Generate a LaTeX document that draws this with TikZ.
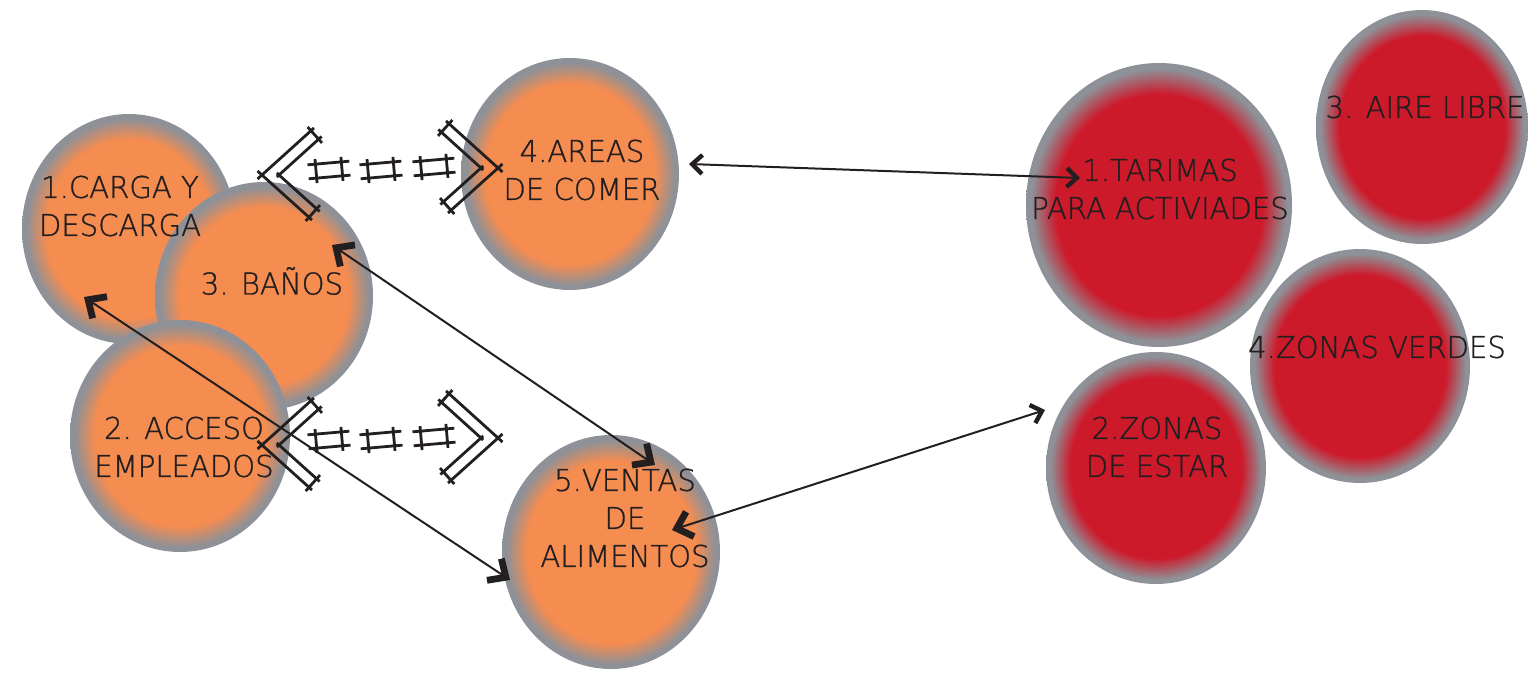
\documentclass[tikz,border=0pt]{standalone}
\usepackage{fontspec}
\usetikzlibrary{shapes.geometric,arrows.meta}
\newfontfamily\lblfont{DejaVu Sans ExtraLight}[FakeStretch=0.97,FakeBold=1]

\definecolor{orfill}{HTML}{F58C50}
\definecolor{redfill}{HTML}{CD1A2B}
\definecolor{rimgray}{HTML}{8E9197}
\definecolor{ink}{HTML}{231F20}

% flat fill in the middle, fading into a grey rim
\pgfdeclareradialshading{orangeball}{\pgfpoint{0bp}{0bp}}{color(0bp)=(orfill); color(19.5bp)=(orfill); color(24bp)=(rimgray); color(50bp)=(rimgray)}
\pgfdeclareradialshading{redball}{\pgfpoint{0bp}{0bp}}{color(0bp)=(redfill); color(19.5bp)=(redfill); color(24bp)=(rimgray); color(50bp)=(rimgray)}

\tikzset{
  zone/.style={ellipse, inner sep=0pt, draw=none},
  orangezone/.style={zone, shading=orangeball},
  redzone/.style={zone, shading=redball},
  lbl/.style={font=\lblfont\fontsize{15}{19}\selectfont, text=ink, align=center, inner sep=0pt},
  link/.style={draw=ink, line width=1pt},
  tipS/.tip={Straight Barb[length=5pt,width=9.5pt,line width=2.2pt]},
  tipL/.tip={Straight Barb[length=7pt,width=13pt,line width=3.4pt]},
  rail/.style={draw=ink, line width=1.4pt},
  % double-railed chevron with crossing ticks, apex at the origin, opening to +x
  chevron/.pic={
    \draw[rail] (52,-47) -- (-4.5,4);
    \draw[rail] (50,45) -- (-4.5,-4);
    \draw[rail] (59.6,-38.5) -- (14.8,2);
    \draw[rail] (57.6,36.5) -- (14.8,-2);
    \draw[rail] (45.6,-48) -- (60,-32.1);
    \draw[rail] (43.7,46) -- (58,30.1);
  },
  hatch/.pic={
    \draw[rail] (-21,-7) -- (21,-7) (-21,7) -- (21,7)
                (-13,-12) -- (-13,12) (13,-12) -- (13,12);
  },
  blocked/.pic={
    \pic at (0,0) {chevron};
    \pic[rotate=5] at (67,-5) {hatch};
    \pic[rotate=5] at (119,-5) {hatch};
    \pic[rotate=5] at (172,-8) {hatch};
    \pic[xscale=-1] at (236,-7) {chevron};
  }
}

\begin{document}
\begin{tikzpicture}[x=0.5pt,y=-0.5pt]
\useasboundingbox (0,0) rectangle (1528,673);

% service zones
\node[orangezone, minimum width=107pt, minimum height=115pt] (carga)  at (129,229) {};
\node[orangezone, minimum width=109pt, minimum height=114pt] (banos)  at (264,296) {};
\node[orangezone, minimum width=110pt, minimum height=116pt] (acceso) at (180,436) {};
\node[orangezone, minimum width=109pt, minimum height=116pt] (areas)  at (570,174) {};
\node[orangezone, minimum width=109pt, minimum height=117pt] (ventas) at (611,552) {};

% leisure zones
\node[redzone, minimum width=133pt, minimum height=142pt] (tarimas) at (1159,205) {};
\node[redzone, minimum width=106pt, minimum height=117pt] (aire)    at (1422,127) {};
\node[redzone, minimum width=110pt, minimum height=117pt] (verdes)  at (1360,366) {};
\node[redzone, minimum width=110pt, minimum height=116pt] (estar)   at (1156,468) {};

% labels
\node[lbl] (cargaT)   at (120,206)  {1.CARGA Y\\DESCARGA};
\node[lbl] (banosT)   at (272,281)  {3. BAÑOS};
\node[lbl] (accesoT)  at (184,447)  {2. ACCESO\\EMPLEADOS};
\node[lbl] (areasT)   at (582,170)  {4.AREAS\\DE COMER};
\node[lbl] (ventasT)  at (625,518)  {5.VENTAS\\DE\\ALIMENTOS};
\node[lbl] (tarimasT) at (1160,189) {1.TARIMAS\\PARA ACTIVIADES};
\node[lbl] (aireT)    at (1425,107) {3. AIRE LIBRE};
\node[lbl] (verdesT)  at (1377,347) {4.ZONAS VERDES};
\node[lbl] (estarT)   at (1157,447) {2.ZONAS\\DE ESTAR};

% connector ends
\coordinate (areasR)   at (689,164);
\coordinate (tarimasL) at (1080,178);
\coordinate (banosR)   at (332,245);
\coordinate (ventasT)  at (655,465);
\coordinate (cargaB)   at (84,297);
\coordinate (ventasL)  at (510,580);
\coordinate (ventasR)  at (672,530);
\coordinate (estarL)   at (1045,410);

% links
\draw[link, tipS-tipS] (areasR) -- (tarimasL);
\draw[link, tipL-tipL] (banosR) -- (ventasT);
\draw[link, tipL-tipL] (cargaB) -- (ventasL);
\draw[link, tipL-tipS] (ventasR) -- (estarL);

% blocked passages
\pic at (262,175) {blocked};
\pic at (262,445) {blocked};
\end{tikzpicture}
\end{document}
